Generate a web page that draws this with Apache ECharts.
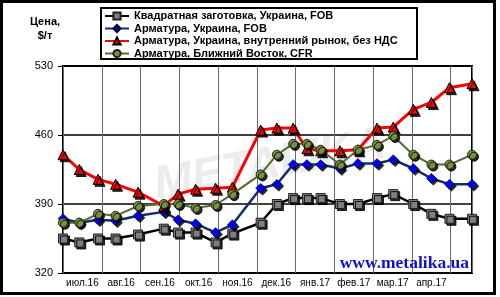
<!DOCTYPE html>
<html>
<head>
<meta charset="utf-8">
<script src="https://cdn.jsdelivr.net/npm/echarts@6/dist/echarts.min.js"></script>
<style>
html,body{margin:0;padding:0;background:#fff;}
#chart{width:500px;height:297px;}
</style>
</head>
<body>
<div id="chart"></div>
<script>
// ---- data ----
var dates = ['2016-07-01','2016-07-14','2016-07-29','2016-08-12','2016-08-30','2016-09-19','2016-09-30',
  '2016-10-14','2016-10-30','2016-11-12','2016-12-04','2016-12-17','2016-12-30','2017-01-10','2017-01-21',
  '2017-02-05','2017-02-18','2017-03-04','2017-03-17','2017-04-02','2017-04-16','2017-04-30','2017-05-18'];
var monthLabels = ['июл.16','авг.16','сен.16','окт.16','ноя.16','дек.16','янв.17','фев.17','мар.17','апр.17'];
var seriesNames = ['Квадратная заготовка, Украина, FOB','Арматура, Украина, FOB',
  'Арматура, Украина, внутренний рынок, без НДС','Арматура, Ближний Восток, CFR'];
var billet = [355,351,355,355,359,365,361,361,351,360,371,390,396,396,396,390,390,396,400,390,380,375,375];
var rebarFob = [375,371,374,373,378,382,374,370,361,369,406,410,430,430,430,426,431,431,435,426,416,410,410];
var rebarDomestic = [440,425,415,410,402,388,400,405,406,407,465,467,467,446,444,444,445,467,468,486,493,508,512];
var rebarME = [371,371,380,378,388,390,390,386,389,400,420,440,451,451,445,430,445,450,459,440,430,430,440];
var yTicks = {min:320, max:530, interval:70};

// month index (from July 2016) with fractional day position
function monthPos(s){
  var p = s.split('-').map(Number);
  var dim = new Date(p[0], p[1], 0).getDate();
  return (p[0]-2016)*12 + (p[1]-1) - 6 + (p[2]-1)/dim;
}
var xs = dates.map(monthPos);
function pairs(vals){ return vals.map(function(v,i){ return [xs[i], v]; }); }
var xMax = xs[xs.length-1];

var shadow = {shadowColor:'rgba(0,0,0,0.85)', shadowOffsetX:2, shadowOffsetY:2, shadowBlur:0};

var chart = echarts.init(document.getElementById('chart'), null, {renderer:'canvas'});
chart.setOption({
  animation:false,
  backgroundColor:'#fff',
  textStyle:{fontFamily:'Liberation Sans, Arial, sans-serif'},
  grid:{left:63, right:28, top:66, bottom:24, show:true, borderColor:'#000', borderWidth:2, backgroundColor:'transparent'},
  legend:{
    orient:'vertical', left:104, top:10.5, itemWidth:24, itemHeight:9, itemGap:1.5,
    padding:0,
    textStyle:{fontSize:11, fontWeight:'bold', color:'#000', lineHeight:11},
    data:seriesNames
  },
  xAxis:[{
    type:'value', min:0, max:xMax, interval:1,
    axisLine:{show:false}, axisTick:{show:false}, axisLabel:{show:false},
    splitLine:{show:true, lineStyle:{color:'#6a6a6a', width:1}}
  },{
    type:'value', min:0, max:xMax, interval:0.5, position:'bottom',
    axisLine:{show:false}, axisTick:{show:false}, splitLine:{show:false},
    axisLabel:{show:true, margin:5, fontSize:10, color:'#000', showMinLabel:false, showMaxLabel:false,
      formatter:function(v){
        var k = Math.round(v*2);
        if (k % 2 === 1) { var i = (k-1)/2; return monthLabels[i] || ''; }
        return '';
      }}
  }],
  yAxis:{
    type:'value', min:yTicks.min, max:yTicks.max, interval:yTicks.interval,
    axisLine:{show:false},
    axisTick:{show:true, length:5, lineStyle:{color:'#000', width:1}},
    axisLabel:{fontSize:11, color:'#000', margin:10},
    splitLine:{show:true, lineStyle:{color:'#000', width:1.5}}
  },
  graphic:[
    {type:'text', z:-10, silent:true,
     style:{text:'METALIKA', x:0, y:0, fontSize:46, fontWeight:'bold', fontStyle:'italic',
       fontFamily:'Liberation Sans, Arial', fill:'#ececec', align:'center', verticalAlign:'middle'},
     x:270, y:165, rotation:0.18},
    {type:'text', style:{text:'Цена,', x:45, y:22, fontSize:11, fontWeight:'bold', fill:'#000',
       align:'center', verticalAlign:'middle', fontFamily:'Liberation Sans, Arial'}},
    {type:'text', style:{text:'$/т', x:45, y:36, fontSize:11, fontWeight:'bold', fill:'#000',
       align:'center', verticalAlign:'middle', fontFamily:'Liberation Sans, Arial'}},
    {type:'rect', z:-5, shape:{x:101, y:8, width:316, height:51},
     style:{fill:'#fff', stroke:'#000', lineWidth:2}},
    {type:'text', z:10, style:{text:'www.metalika.ua', x:469, y:263, align:'right', verticalAlign:'middle',
       fontSize:17.5, fontWeight:'bold', fill:'#1010d0', fontFamily:'Liberation Serif, Times New Roman, serif'}},
    {type:'rect', z:20, shape:{x:1.5, y:1.5, width:493, height:292},
     style:{fill:null, stroke:'#000', lineWidth:3}}
  ],
  series:[
    {name:seriesNames[0], type:'line', data:pairs(billet), symbol:'rect', symbolSize:9,
     lineStyle:{color:'#000', width:2.5}, itemStyle:Object.assign({color:'#7f7f7f', borderColor:'#222', borderWidth:1}, shadow), z:3},
    {name:seriesNames[1], type:'line', data:pairs(rebarFob), symbol:'diamond', symbolSize:10,
     lineStyle:{color:'#152c6b', width:2.5}, itemStyle:Object.assign({color:'#0000ff', borderColor:'#000', borderWidth:0.5}, shadow), z:4},
    {name:seriesNames[2], type:'line', data:pairs(rebarDomestic), symbol:'triangle', symbolSize:10,
     lineStyle:{color:'#ff0000', width:3}, itemStyle:Object.assign({color:'#ff0000', borderColor:'#000', borderWidth:1}, shadow), z:5},
    {name:seriesNames[3], type:'line', data:pairs(rebarME), symbol:'circle', symbolSize:9,
     lineStyle:{color:'#556b2f', width:2}, itemStyle:Object.assign({color:'#76923c', borderColor:'#222', borderWidth:1}, shadow), z:6}
  ]
});
</script>
</body>
</html>
